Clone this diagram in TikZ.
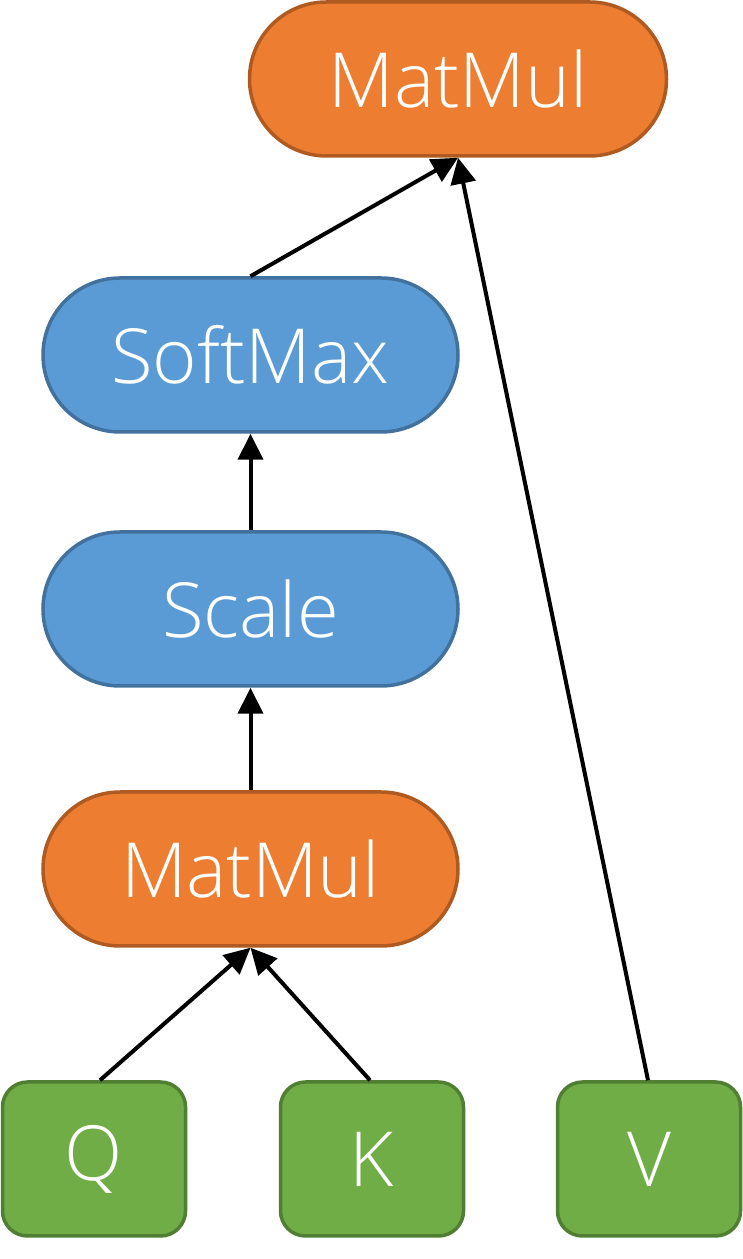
\documentclass[tikz,border=0pt]{standalone}
\usepackage{fontspec}
\IfFontExistsTF{Open Sans Light}{\setmainfont{Open Sans Light}}{\setmainfont{Open Sans}}
\usetikzlibrary{arrows.meta}
\definecolor{naranja}{HTML}{ED7D31}
\definecolor{naranjaborde}{HTML}{AE5A21}
\definecolor{azul}{HTML}{5B9BD5}
\definecolor{azulborde}{HTML}{41719C}
\definecolor{verde}{HTML}{70AD47}
\definecolor{verdeborde}{HTML}{507E32}
\begin{document}
\begin{tikzpicture}[x=1pt,y=1pt,
    caja/.style={rectangle, line width=3.5pt, text=white,
        minimum width=415pt, minimum height=154pt, rounded corners=77pt,
        font=\fontsize{76}{86}\selectfont},
    matmul/.style={caja, fill=naranja, draw=naranjaborde},
    capa/.style={caja, fill=azul, draw=azulborde},
    entrada/.style={caja, fill=verde, draw=verdeborde,
        minimum width=183pt, rounded corners=25pt},
    flecha/.style={line width=4pt, -{Triangle[length=26pt,width=25pt]}}]
    \useasboundingbox (0,0) rectangle (743,1259);

    % Entradas
    \node[entrada] (q) at (94,100) {Q};
    \node[entrada] (k) at (372,100) {K};
    \node[entrada] (v) at (649,100) {V};

    % Bloques
    \node[matmul] (mm1) at (250.5,390) {MatMul};
    \node[capa] (scale) at (250.5,650) {Scale};
    \node[capa] (soft) at (250.5,904) {SoftMax};
    \node[matmul, minimum width=417pt] (mm2) at (458,1180) {MatMul};

    % Flechas
    \draw[flecha] ([xshift=6pt]q.north) -- (mm1.south);
    \draw[flecha] ([xshift=-2pt]k.north) -- (mm1.south);
    \draw[flecha] (mm1.north) -- (scale.south);
    \draw[flecha] (scale.north) -- (soft.south);
    \draw[flecha] (soft.north) -- (mm2.south);
    \draw[flecha] ([xshift=-1pt]v.north) -- (mm2.south);
\end{tikzpicture}
\end{document}
